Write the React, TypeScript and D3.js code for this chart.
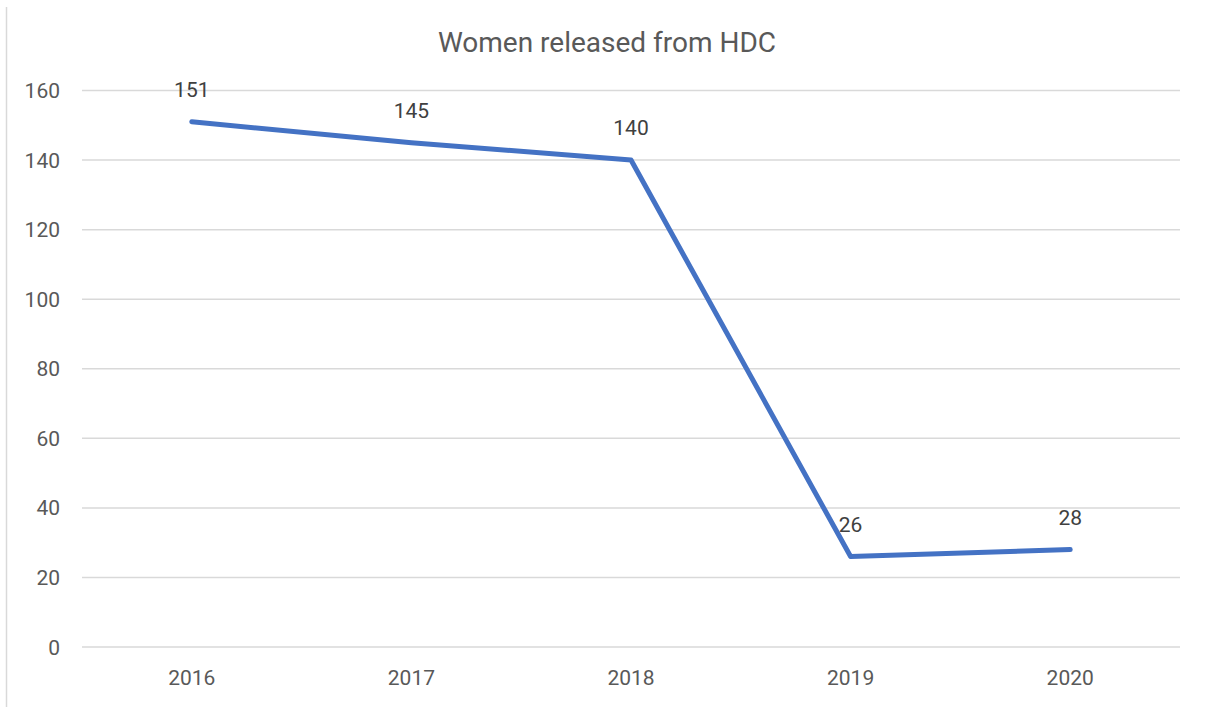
import React from 'react';
import * as d3 from 'd3';

const years = ['2016', '2017', '2018', '2019', '2020'];
const released = [151, 145, 140, 26, 28];
const yTicks = [0, 20, 40, 60, 80, 100, 120, 140, 160];
const chartTitle = 'Women released from HDC';

const W = 1208;
const H = 707;
const margin = { top: 90.5, right: 28, bottom: 60, left: 82 };

export default function App() {
  const x = d3.scaleBand<string>()
    .domain(years)
    .range([margin.left, W - margin.right]);

  const y = d3.scaleLinear()
    .domain([0, 160])
    .range([H - margin.bottom, margin.top]);

  const cx = (d: string) => (x(d) ?? 0) + x.bandwidth() / 2;

  const line = d3.line<number>()
    .x((_, i) => cx(years[i]))
    .y(d => y(d));

  const font = 'Roboto, "Open Sans", sans-serif';

  return (
    <div style={{ position: 'absolute', left: 0, top: 0 }}>
      <svg width={W} height={H} style={{ display: 'block', background: '#fff' }}>
        {/* chart area left edge */}
        <line x1={6.5} x2={6.5} y1={7} y2={H} stroke="#d9d9d9" strokeWidth={1.5} />

        <text x={607} y={52} textAnchor="middle" fontFamily={font} fontSize={28} fill="#595959">
          {chartTitle}
        </text>

        {/* gridlines + y labels */}
        {yTicks.map(t => (
          <g key={t}>
            <line x1={margin.left} x2={W - margin.right} y1={y(t)} y2={y(t)} stroke="#d9d9d9" strokeWidth={1.5} />
            <text x={60} y={y(t) + 7.5} textAnchor="end" fontFamily={font} fontSize={21} fill="#595959">
              {t}
            </text>
          </g>
        ))}

        {/* x labels */}
        {years.map(d => (
          <text key={d} x={cx(d)} y={685} textAnchor="middle" fontFamily={font} fontSize={21} fill="#595959">
            {d}
          </text>
        ))}

        <path d={line(released) ?? ''} fill="none" stroke="#4472c4" strokeWidth={5} strokeLinejoin="round" strokeLinecap="round" />

        {/* data labels */}
        {released.map((v, i) => (
          <text key={i} x={cx(years[i])} y={y(v) - 25} textAnchor="middle" fontFamily={font} fontSize={21} fill="#404040">
            {v}
          </text>
        ))}
      </svg>
    </div>
  );
}
